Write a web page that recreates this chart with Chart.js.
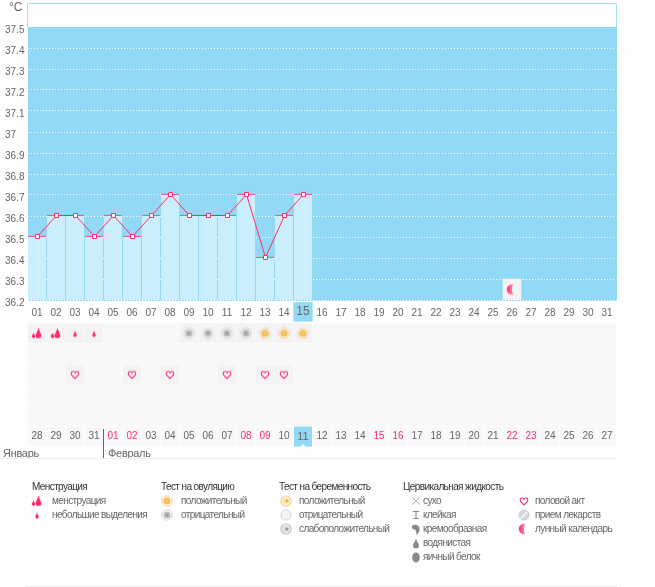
<!DOCTYPE html>
<html><head><meta charset="utf-8">
<script src="https://cdn.jsdelivr.net/npm/chart.js@4"></script>
<style>
html,body{margin:0;padding:0;background:#fdfefd;width:655px;height:587px;overflow:hidden;font-family:"Liberation Sans",sans-serif}
canvas{position:absolute;display:block}
.t{position:absolute;font-size:10px;line-height:14px;color:#666;white-space:nowrap;letter-spacing:-0.6px}
.h{color:#333;font-size:10px}
.m{font-size:11px;letter-spacing:-0.3px}
.rule{position:absolute;background:#eceeee;height:1px}
</style></head><body>
<canvas id="temp" width="655" height="312" style="left:0;top:0"></canvas>
<canvas id="cal" width="655" height="149" style="left:0;top:301px"></canvas>
<div class="t" style="left:9px;top:0px;font-size:12px;letter-spacing:0">°C</div>
<div class="t m" style="left:3px;top:446px">Январь</div>
<div class="t m" style="left:108px;top:446px">Февраль</div>
<div style="position:absolute;left:103px;top:429px;width:1px;height:29px;background:#666"></div>
<div class="rule" style="left:0;top:458px;width:617px"></div>
<div class="rule" style="left:26px;top:586px;width:591px"></div>
<div id="legend"></div>
<script>
// ---------- data ----------
const topDays = ['01','02','03','04','05','06','07','08','09','10','11','12','13','14','15','16','17','18','19','20','21','22','23','24','25','26','27','28','29','30','31'];
const bottomDays = ['28','29','30','31','01','02','03','04','05','06','07','08','09','10','11','12','13','14','15','16','17','18','19','20','21','22','23','24','25','26','27'];
const redDates = ['01','02','08','09','15','16','22','23'];
const yTicks = [37.5,37.4,37.3,37.2,37.1,37,36.9,36.8,36.7,36.6,36.5,36.4,36.3,36.2];
const temps = [36.5,36.6,36.6,36.5,36.6,36.5,36.6,36.7,36.6,36.6,36.6,36.7,36.4,36.6,36.7];
const moonDay = '26';
const todayTop = '15';
const todayBottomIndex = 14;
const row1Marks = ['flow','flow','spot','spot',null,null,null,null,'ovNeg','ovNeg','ovNeg','ovNeg','ovPos','ovPos','ovPos'];
const row2Marks = [];
const row3Marks = [null,null,'heart',null,null,'heart',null,'heart',null,null,'heart',null,'heart','heart'];
const row4Marks = [];
const row5Marks = [];
const legendGroups = [
 {x:32, title:'Менструация', ix:37, tx:52, items:[['flow','менструация'],['spot','небольшие выделения']]},
 {x:161,title:'Тест на овуляцию', ix:167, tx:181, items:[['ovPos','положительный'],['ovNeg','отрицательный']]},
 {x:279,title:'Тест на беременность', ix:286, tx:299, items:[['prPos','положительный'],['prNeg','отрицательный'],['prWeak','слабоположительный']]},
 {x:403,title:'Цервикальная жидкость', ix:416, tx:423, items:[['dry','сухо'],['sticky','клейкая'],['creamy','кремообразная'],['watery','водянистая'],['egg','яичный белок']]},
 {x:null,title:'', ix:524, tx:535, items:[['heart','половой акт'],['pill','прием лекарств'],['moon','лунный календарь']]}
];
// ---------- colours ----------
const PINK='#ff2d6c', SKY='#92d9f5', BAR='#cbeefd', GREY='#666';
const CELL='#f8f7f9', CELL_ON='#f3f3f5';
const FONT='"Liberation Sans"';
// ---------- icons ----------
function drop(c,x,y,r,h,col){c.fillStyle=col;c.beginPath();c.moveTo(x,y-h);c.bezierCurveTo(x+r*.4,y-h*.4,x+r,y-r*.5,x+r,y);c.arc(x,y,r,0,Math.PI);c.bezierCurveTo(x-r,y-r*.5,x-r*.4,y-h*.4,x,y-h);c.fill();}
function ring(c,x,y,r,col,w){c.strokeStyle=col;c.lineWidth=w;c.beginPath();c.arc(x,y,r,0,7);c.stroke();}
function disc(c,x,y,r,col){c.fillStyle=col;c.beginPath();c.arc(x,y,r,0,7);c.fill();}
const painters={
 flow(c){drop(c,4.5,11,1.8,3.5,PINK);drop(c,9.5,10,2.9,7.5,PINK);},
 spot(c){drop(c,8,10,1.7,5,PINK);},
 heart(c){c.strokeStyle=PINK;c.lineWidth=1.1;c.beginPath();c.moveTo(8,12);c.lineTo(4.6,8.4);c.bezierCurveTo(3.6,6.4,4.8,4.8,6.2,5);c.bezierCurveTo(7,5.1,7.6,5.6,8,6.4);c.bezierCurveTo(8.4,5.6,9,5.1,9.8,5);c.bezierCurveTo(11.2,4.8,12.4,6.4,11.4,8.4);c.closePath();c.fillStyle='#fff';c.fill();c.stroke();},
 ovPos(c){ring(c,8,8,5.2,'#f7d48a',1);disc(c,8,8,3.6,'#f6bd5c');disc(c,8,8,1.5,'#f9c874');},
 ovNeg(c){ring(c,8,8,5.2,'#d5d5d5',1);disc(c,8,8,3.6,'#bbb');disc(c,8,8,1,'#888');},
 prPos(c){ring(c,8,8,5,'#f3cf88',1.2);disc(c,8,8,3.6,'#fbe3ae');disc(c,9,8,1.6,'#f0b050');},
 prNeg(c){ring(c,8,8,5,'#d0d0d0',1);disc(c,8,8,4.2,'#f4f4f4');},
 prWeak(c){ring(c,8,8,5,'#bdbdbd',1.2);disc(c,8,8,3.6,'#d8d8d8');disc(c,9,8,1.6,'#999');},
 dry(c){c.strokeStyle='#999';c.lineWidth=.8;c.beginPath();c.moveTo(4.5,4.5);c.lineTo(11.5,11.5);c.moveTo(11.5,4.5);c.lineTo(4.5,11.5);c.stroke();},
 sticky(c){c.strokeStyle='#888';c.lineWidth=1;c.beginPath();c.moveTo(5,4.5);c.lineTo(11,4.5);c.moveTo(8,4.5);c.lineTo(8,11.5);c.moveTo(5.5,11.5);c.lineTo(10.5,11.5);c.stroke();},
 creamy(c){c.fillStyle='#888';c.beginPath();c.moveTo(4,5);c.bezierCurveTo(7,2.5,12,4,11.5,9);c.bezierCurveTo(11.2,11.5,9.5,13,8,14);c.bezierCurveTo(9,11,8,8.5,6,8.5);c.bezierCurveTo(4.5,8.5,3.5,6.5,4,5);c.fill();},
 watery(c){drop(c,8,10.5,3,7,'#888');},
 egg(c){c.fillStyle='#888';c.beginPath();c.ellipse(8,8.5,3.8,5,0,0,7);c.fill();},
 pill(c){disc(c,8,8,5,'#d6d6dc');c.strokeStyle='#fff';c.lineWidth=1.2;c.beginPath();c.moveTo(4.5,11.5);c.lineTo(11.5,4.5);c.stroke();ring(c,8,8,5,'#c4c4cc',.8);},
 moon(c){const g=c.createLinearGradient(3,0,12,0);g.addColorStop(0,PINK);g.addColorStop(1,'#ffc4d6');c.fillStyle=g;c.beginPath();c.arc(8,8,5.2,Math.PI*.42,Math.PI*1.58);c.bezierCurveTo(7.5,4.8,7.5,11.2,9.6,12.9);c.fill();}
};
function icon(name){const k=document.createElement('canvas');k.width=16;k.height=16;painters[name](k.getContext('2d'));return k;}
const iconCache={};const ic=n=>iconCache[n]||(iconCache[n]=icon(n));
const noPad=s=>{s.paddingTop=0;s.paddingBottom=0;s.paddingLeft=0;s.paddingRight=0;};
// ---------- temperature chart ----------
const TOP=36.2+297/210;
const SHIFT=1/210;      // bars sit one pixel above the dotted lines
const LSHIFT=.5/210;    // line and squares sit on a whole-pixel row
const XSHIFT=.5/19;     // and a whole-pixel column
const frame={id:'frame',
 beforeDraw(ch){const a=ch.chartArea,y=ch.scales.y,c=ch.ctx;
  c.fillStyle='#fff';c.fillRect(28,3,589,a.bottom-3);
  c.fillStyle=SKY;c.fillRect(28,y.getPixelForValue(37.5),589,a.bottom-y.getPixelForValue(37.5)+1);},
 afterDraw(ch){const c=ch.ctx;c.strokeStyle='#a5e0f7';c.lineWidth=1;c.beginPath();c.moveTo(27.5,27);c.lineTo(27.5,3.5);c.lineTo(616.5,3.5);c.lineTo(616.5,27);c.stroke();}
};
new Chart(document.getElementById('temp'),{
 data:{labels:topDays,datasets:[
  {type:'line',xAxisID:'lx',yAxisID:'l',data:temps.map((v,i)=>({x:i,y:v})),borderColor:PINK,borderWidth:1,tension:0,
   pointStyle:'rect',pointRadius:2.83,pointBorderWidth:1,pointBackgroundColor:'#fff',pointBorderColor:PINK,order:1},
  {type:'bar',yAxisID:'d',data:temps,backgroundColor:BAR,borderColor:PINK,
   borderWidth:{top:1,right:0,bottom:0,left:0},borderSkipped:false,barThickness:18,grouped:false,order:3},
  {type:'bar',yAxisID:'y',data:topDays.map(d=>d===moonDay?[36.2,36.3]:null),backgroundColor:CELL_ON,barThickness:18,grouped:false,order:2},
  {type:'line',yAxisID:'y',showLine:false,data:topDays.map(d=>d===moonDay?36.25:null),pointStyle:ic('moon'),pointRadius:8,order:0}
 ]},
 options:{responsive:false,animation:false,devicePixelRatio:1,
  layout:{autoPadding:false,padding:{left:5,right:38.5,top:3,bottom:12}},
  plugins:{legend:{display:false},tooltip:{enabled:false}},
  scales:{
   x:{display:false,offset:true,afterFit:noPad},
   lx:{type:'linear',display:false,axis:'x',min:-0.5-XSHIFT,max:30.5-XSHIFT,afterFit:noPad},
   y:{position:'left',min:36.2,max:TOP,
    afterBuildTicks(s){s.ticks=yTicks.map(v=>({value:v}));},
    afterFit(s){s.width=22.5;noPad(s);},
    grid:{color:'#fff',drawTicks:false,lineWidth:1},
    border:{display:false,dash:[1,2]},
    ticks:{crossAlign:'far',padding:0,labelOffset:3,color:GREY,font:{family:FONT,size:10},autoSkip:false,callback:v=>String(v)}},
   d:{display:false,min:36.2-SHIFT,max:TOP-SHIFT,afterFit:noPad},
   l:{display:false,min:36.2-LSHIFT,max:TOP-LSHIFT,afterFit:noPad}
  }
 },
 plugins:[frame]
});
// ---------- calendar chart ----------
const rows=[row1Marks,row2Marks,row3Marks,row4Marks,row5Marks];
const cellSets=rows.map((marks,r)=>({type:'bar',yAxisID:'y',xAxisID:'x',
  data:topDays.map(()=>[r+.03,r+.97]),
  backgroundColor:topDays.map((d,i)=>marks[i]?CELL_ON:CELL),
  barThickness:18,grouped:false,order:2}));
const markSets=rows.map((marks,r)=>({type:'line',yAxisID:'y',xAxisID:'x',showLine:false,
  data:topDays.map((d,i)=>marks[i]?r+.5:null),
  pointStyle:topDays.map((d,i)=>marks[i]?ic(marks[i]):false),pointRadius:8,order:1}));
const tick={id:'tick',afterDraw(ch){const s=ch.scales.x2,c=ch.ctx,px=s.getPixelForTick(todayBottomIndex),b=ch.height-3;
  c.fillStyle='#fff';c.beginPath();c.moveTo(px-3,b);c.lineTo(px+3,b);c.lineTo(px,b-3);c.fill();}};
new Chart(document.getElementById('cal'),{
 data:{labels:topDays,datasets:[...cellSets,...markSets]},
 options:{responsive:false,animation:false,devicePixelRatio:1,
  layout:{autoPadding:false,padding:{left:27.5,right:38.5,top:0,bottom:0}},
  plugins:{legend:{display:false},tooltip:{enabled:false}},
  scales:{
   y:{display:false,min:0,max:5,reverse:true,afterFit:noPad},
   x:{position:'top',offset:true,grid:{display:false,drawTicks:false},border:{display:false},
    afterFit(s){s.height=22;noPad(s);},
    ticks:{padding:4,maxRotation:0,autoSkip:false,
     color:c=>GREY,
     font:c=>({family:FONT,size:topDays[c.index]===todayTop?12:10}),
     showLabelBackdrop:c=>topDays[c.index]===todayTop,backdropColor:SKY,backdropPadding:{x:3,y:2.5}}},
   x2:{position:'bottom',type:'category',labels:bottomDays,offset:true,grid:{display:false,drawTicks:false},border:{display:false},
    afterFit(s){s.height=24;noPad(s);},
    ticks:{padding:4,maxRotation:0,autoSkip:false,
     color:c=>c.index===todayBottomIndex?GREY:(redDates.includes(bottomDays[c.index])?PINK:GREY),
     font:c=>({family:FONT,size:c.index===todayBottomIndex?11:10}),
     showLabelBackdrop:true,backdropColor:c=>c.index===todayBottomIndex?SKY:CELL,
     backdropPadding:{x:3.3,y:3.5}}}
  }
 },
 plugins:[tick]
});
// ---------- legend ----------
const L=document.getElementById('legend');
function put(cls,x,y,txt){const d=document.createElement('div');d.className=cls;d.style.left=x+'px';d.style.top=y+'px';d.textContent=txt;L.appendChild(d);}
legendGroups.forEach(g=>{
 if(g.title)put('t h',g.x,480,g.title);
 g.items.forEach((it,i)=>{
  const yc=501+i*14,k=icon(it[0]);k.style.left=(g.ix-8)+'px';k.style.top=(yc-8)+'px';L.appendChild(k);
  put('t',g.tx,yc-7,it[1]);
 });
});
</script>
</body></html>
